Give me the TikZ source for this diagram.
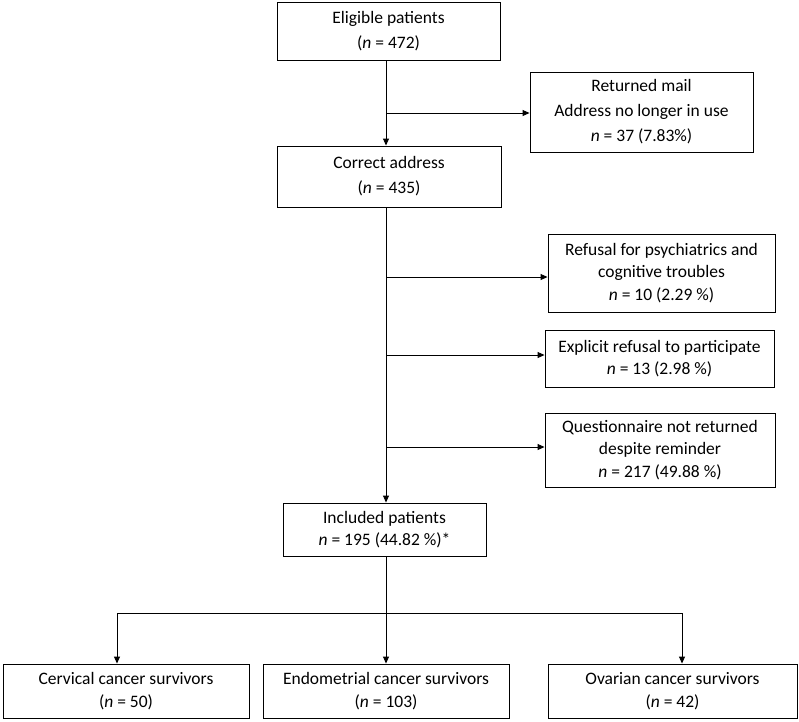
\documentclass[tikz,border=0pt]{standalone}
\usepackage{fontspec}
\setmainfont{Carlito}
\usepackage{tikz}
\usetikzlibrary{positioning,arrows.meta}

\begin{document}
\begin{tikzpicture}[
          x=1pt, y=-1pt,
          box/.style={draw, line width=0.9pt, align=center, inner sep=0pt, font=\fontsize{17.5}{22.5}\selectfont},
          wide/.style={box, font=\fontsize{17.5}{25}\selectfont},
          arr/.style={-{Triangle[length=7pt,width=6pt]}, line width=0.9pt}
      ]
        \useasboundingbox (0,0) rectangle (799,721);
        % main column
        \node[wide, minimum width=223pt, minimum height=58pt] (eligible) at (388.5,31) {Eligible patients\\(\textit{n} = 472)};
        \node[wide, minimum width=224pt, minimum height=61pt] (correct) at (389,176.5) {Correct address\\(\textit{n} = 435)};
        \node[box, minimum width=203pt, minimum height=53pt] (included) at (384.5,529.5) {Included patients\\\textit{n} = 195 (44.82 \%)*};
        % exclusions
        \node[wide, minimum width=223pt, minimum height=80pt] (returned) at (641.5,112) {Returned mail\\Address no longer in use\\\textit{n} = 37 (7.83\%)};
        \node[box, minimum width=227pt, minimum height=78pt] (refusal) at (661.5,273) {Refusal for psychiatrics and\\cognitive troubles\\\textit{n} = 10 (2.29 \%)};
        \node[box, minimum width=229pt, minimum height=57pt] (explicit) at (659.5,358.5) {Explicit refusal to participate\\\textit{n} = 13 (2.98 \%)};
        \node[box, minimum width=230pt, minimum height=74pt] (question) at (660,450) {Questionnaire not returned\\despite reminder\\\textit{n} = 217 (49.88 \%)};
        % groups
        \node[box, minimum width=246pt, minimum height=54pt] (cervical) at (126,691) {Cervical cancer survivors\\(\textit{n} = 50)};
        \node[box, minimum width=246pt, minimum height=54pt] (endo) at (386,691) {Endometrial cancer survivors\\(\textit{n} = 103)};
        \node[box, minimum width=249pt, minimum height=54pt] (ovarian) at (672.5,691) {Ovarian cancer survivors\\(\textit{n} = 42)};

        \coordinate (trunk) at (386,0);
        \coordinate (b1) at (386,113);
        \coordinate (b2) at (386,277);
        \coordinate (b3) at (386,355);
        \coordinate (b4) at (386,447);
        \coordinate (split) at (386,613);
        \coordinate (lsplit) at (117,613);
        \coordinate (rsplit) at (682,613);

        \draw[arr] (eligible.south -| trunk) -- (correct.north -| trunk);
        \draw[arr] (b1) -- (b1 -| returned.west);
        \draw[arr] (correct.south -| trunk) -- (included.north -| trunk);
        \draw[arr] (b2) -- (b2 -| refusal.west);
        \draw[arr] (b3) -- (b3 -| explicit.west);
        \draw[arr] (b4) -- (b4 -| question.west);
        \draw[line width=0.9pt] (included.south -| trunk) -- (split);
        \draw[line width=0.9pt] (lsplit) -- (rsplit);
        \draw[arr] (lsplit) -- (lsplit |- cervical.north);
        \draw[arr] (split) -- (split |- endo.north);
        \draw[arr] (rsplit) -- (rsplit |- ovarian.north);
      \end{tikzpicture}
\end{document}
